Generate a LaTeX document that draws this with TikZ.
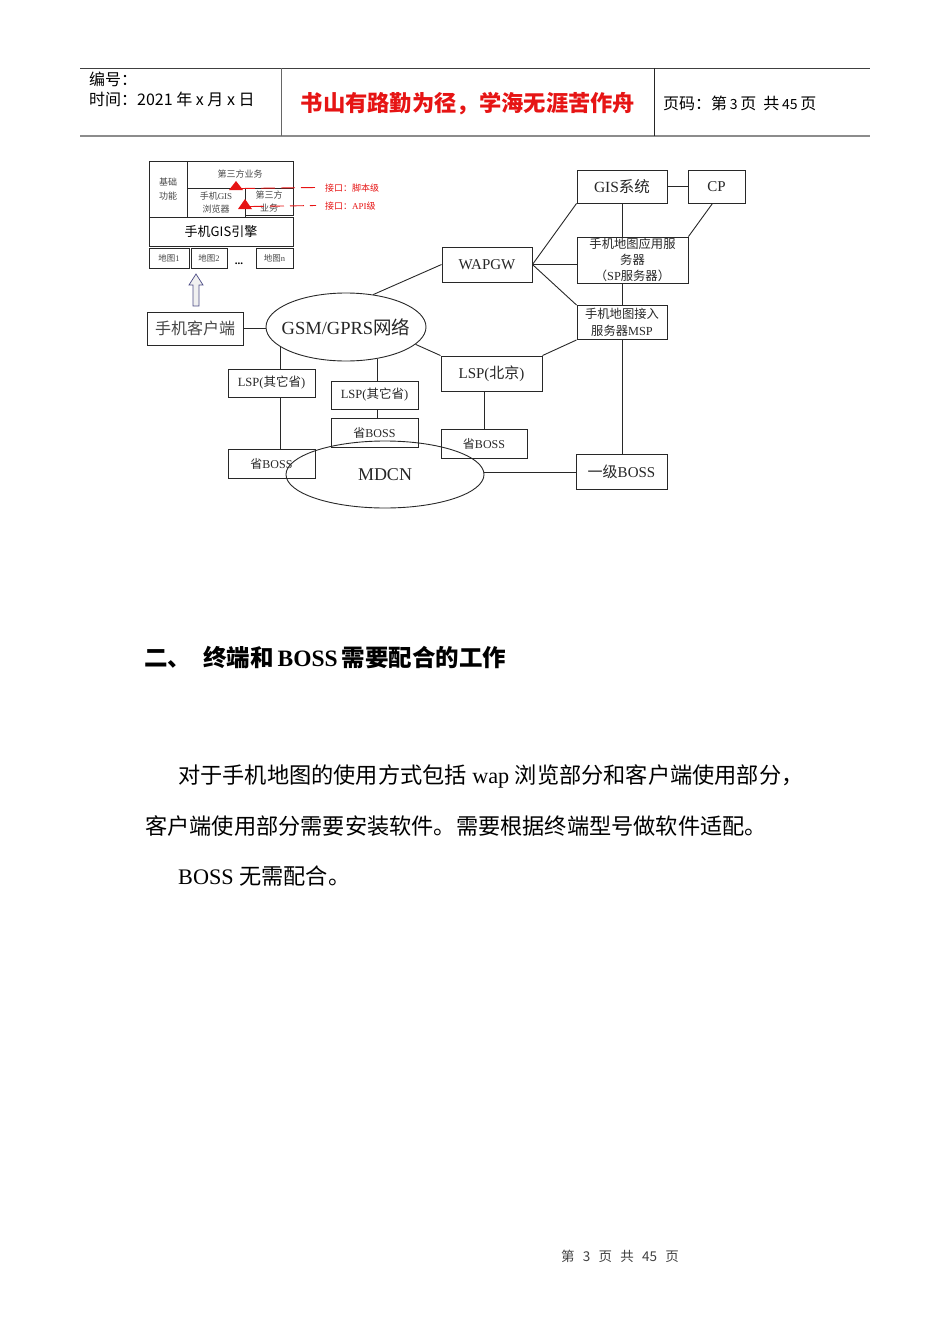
\documentclass[tikz,border=0pt]{standalone}
\usepackage{fontspec}
\setmainfont{Liberation Serif}
\newfontfamily\cjk{Noto Sans CJK SC}
\usetikzlibrary{shapes.geometric}
\newcommand{\C}[1]{{\cjk #1}}
\newcommand{\Lt}[1]{{\rmfamily #1}}
\newcommand{\fsz}[1]{\fontsize{#1}{#1}\selectfont}
\newcommand{\fszl}[2]{\fontsize{#1}{#2}\selectfont}
\definecolor{redtxt}{RGB}{230,20,20}
\definecolor{boxline}{RGB}{40,40,40}
\definecolor{graytxt}{RGB}{70,70,70}
\tikzset{
  bx/.style={draw=boxline, line width=0.9pt, inner sep=0pt, align=center, text=graytxt},
  ln/.style={draw=boxline, line width=0.9pt},
  el/.style={draw=boxline, line width=0.9pt, ellipse, inner sep=0pt},
  txt/.style={inner sep=0pt, anchor=west},
  rdash/.style={redtxt, line width=0.9pt, dash pattern=on 14pt off 6pt},
}
\begin{document}
\begin{tikzpicture}[x=1pt,y=-1pt]
\useasboundingbox (0,0) rectangle (950,1344);
% ---------- header ----------
\draw[line width=0.8pt, color=black!75] (80,68) -- (870,68);
\draw[line width=1.6pt, color=black!45] (80,136) -- (870,136);
\draw[line width=0.9pt, color=black!60] (281,68) -- (281,136);
\draw[line width=0.9pt, color=black!85] (654,68) -- (654,136);
\node[txt] (h1) at (89,79) {\cjk\fsz{16}编号：};
\node[txt] (h2) at (89,99) {\cjk\fsz{16}时间：2021 年 x 月 x 日};
\node[inner sep=0pt, text=redtxt] (h3) at (468,104) {\cjk\bfseries\fsz{22.3}书山有路勤为径，学海无涯苦作舟};
\node[txt] (h4) at (663,103) {\cjk\fsz{16}页码：第\,{\fsz{14}3}\,页\ \ 共\,{\fsz{14}45}\,页};
% ---------- left stack ----------
\node[bx, font=\cjk\fszl{9}{14}, minimum width=38pt, minimum height=56pt] (jc) at (168,189) {基础\\功能};
\node[bx, font=\cjk\fsz{9}, minimum width=106pt, minimum height=27pt] (sf1) at (240,174.5) {第三方业务};
\node[bx, font=\cjk\fszl{9}{13}, minimum width=58pt, minimum height=29pt] (llq) at (216,202.5) {手机\Lt{GIS}\\浏览器};
\node[bx, font=\cjk\fszl{9}{12.5}, minimum width=48pt, minimum height=27pt] (sf2) at (269,201.5) {第三方\\业务};
\node[bx, font=\cjk\fsz{13}, minimum width=144pt, minimum height=29pt, text=black] (yq) at (221,231.5) {手机GIS引擎};
\node[bx, font=\cjk\fsz{8.5}, minimum width=40pt, minimum height=20pt] (m1) at (169,258) {地图\Lt{1}};
\node[bx, font=\cjk\fsz{8.5}, minimum width=36pt, minimum height=20pt] (m2) at (209,258) {地图\Lt{2}};
\node[bx, font=\cjk\fsz{8.5}, minimum width=37pt, minimum height=20pt] (mn) at (274.5,258) {地图\Lt{n}};
\node[inner sep=0pt, text=black] (dots) at (239,264) {\fsz{11}\textbf{...}};
% red interface marks
\node[txt, text=redtxt, font=\cjk\fsz{9}] (i1) at (325,188) {接口：脚本级};
\node[txt, text=redtxt, font=\cjk\fsz{9}] (i2) at (325,206) {接口：\Lt{API}级};
\coordinate (t1) at (241,188.5);
\coordinate (t2) at (250,206.5);
\draw[rdash] (t1) -- ([xshift=-9pt,yshift=0.5pt]i1.west);
\draw[rdash] (t2) -- ([xshift=-9pt,yshift=0.5pt]i2.west);
\fill[redtxt] (236,181) -- (243,190) -- (229,190) -- cycle;
\fill[redtxt] (245,199) -- (252,209) -- (238,209) -- cycle;
% hollow up arrow
\draw[draw=black!45!blue!40!gray, fill=gray!12, line width=0.7pt]
  (193,306) -- (193,285) -- (189,285) -- (196,274) -- (203,285) -- (199,285) -- (199,306) -- cycle;
% ---------- network part ----------
\node[bx, font=\cjk\fsz{16}, minimum width=96pt, minimum height=33pt] (cli) at (195,328.5) {手机客户端};
\node[el, minimum width=160pt, minimum height=68pt,
  label={[font=\fsz{18.5}, text=black!85, inner sep=0pt]center:GSM/GPRS\C{网络}}] (gsm) at (346,327) {};
\node[bx, font=\fsz{15}, minimum width=90pt, minimum height=35pt, text=black!85] (wap) at (487,264.5) {WAPGW};
\node[bx, font=\fsz{15.5}, minimum width=90pt, minimum height=33pt, text=black!85] (gis) at (622,186.5) {GIS\C{系统}};
\node[bx, font=\fsz{15}, minimum width=57pt, minimum height=33pt, text=black!85] (cp) at (716.5,186.5) {CP};
\node[bx, font=\cjk\fszl{12.3}{16}, minimum width=111pt, minimum height=46pt, text=black!85] (sp) at (632.5,260) {手机地图应用服\\务器\\（\Lt{SP}服务器）};
\node[bx, font=\cjk\fszl{12.3}{17}, minimum width=90pt, minimum height=34pt, text=black!85] (msp) at (622,322.5) {手机地图接入\\服务器\Lt{MSP}};
\node[bx, font=\fsz{15}, minimum width=101pt, minimum height=35pt, text=black!85] (lspB) at (491.5,373.5) {LSP(\C{北京})};
\node[bx, font=\fsz{12}, minimum width=86pt, minimum height=29pt, text=black!85] (bossB) at (484,443.5) {\C{省}BOSS};
\node[bx, font=\fsz{12.5}, minimum width=87pt, minimum height=28pt, text=black!85] (lspL) at (271.5,383) {LSP(\C{其它省})};
\node[bx, font=\fsz{12}, minimum width=87pt, minimum height=29pt, text=black!85] (bossL) at (271.5,463.5) {\C{省}BOSS};
\node[bx, font=\fsz{12.5}, minimum width=87pt, minimum height=28pt, text=black!85] (lspM) at (374.5,395) {LSP(\C{其它省})};
\node[bx, font=\fsz{12}, minimum width=87pt, minimum height=29pt, text=black!85] (bossM) at (374.5,432.5) {\C{省}BOSS};
\node[el, minimum width=198pt, minimum height=67pt,
  label={[font=\fsz{18}, text=black!85, inner sep=0pt]center:MDCN}] (mdcn) at (385,474.5) {};
\node[bx, font=\fsz{15}, minimum width=91pt, minimum height=35pt, text=black!85] (boss1) at (621.5,471.5) {\C{一级}BOSS};
% connectors
\draw[ln] (cli.east) -- (cli.east -| gsm.west);
\draw[ln] (gsm.50) -- (wap.west);
\draw[ln] (wap.east) -- (gis.south west);
\draw[ln] (wap.east) -- (wap.east -| sp.west);
\draw[ln] (wap.east) -- (msp.north west);
\draw[ln] (gis.east) -- (gis.east -| cp.west);
\draw[ln] (gis.south) -- (gis.south |- sp.north);
\draw[ln] ([xshift=-4pt]cp.south) -- (sp.north east);
\draw[ln] (msp.north) -- (msp.north |- sp.south);
\draw[ln] (msp.south) -- (msp.south |- boss1.north);
\draw[ln] (gsm.-14) -- (lspB.north west);
\draw[ln] (lspB.north east) -- (msp.south west);
\draw[ln] (bossB.north) -- (bossB.north |- lspB.south);
\draw[ln] (gsm.197) -- (gsm.197 |- lspL.north);
\draw[ln] (gsm.197 |- lspL.south) -- (gsm.197 |- bossL.north);
\draw[ln] (gsm.-45) -- (gsm.-45 |- lspM.north);
\draw[ln] (gsm.-45 |- lspM.south) -- (gsm.-45 |- bossM.north);
\draw[ln] ([yshift=2.5pt]mdcn.east) -- ([yshift=2.5pt]mdcn.east -| boss1.west);
% ---------- body text ----------
\node[txt] (sec) at (144,658) {\fsz{23.5}{\cjk\bfseries 二、\hspace{12pt}终端和}\,\textbf{BOSS}\,{\cjk\bfseries 需要配合的工作}};
\node[txt] (p1) at (178,776) {\fsz{22.2}\C{对于手机地图的使用方式包括}\ wap\ \C{浏览部分和客户端使用部分，}};
\node[txt] (p2) at (145,826) {\fsz{22.2}\C{客户端使用部分需要安装软件。需要根据终端型号做软件适配。}};
\node[txt] (p3) at (178,876) {\fsz{22.2}BOSS\ \C{无需配合。}};
\node[inner sep=0pt, text=black!75] (foot) at (620,1256) {\cjk\fsz{13.5}第\ \ \,3\ \ \,页\ \ \,共\ \ \,45\ \ \,页};
\end{tikzpicture}
\end{document}
